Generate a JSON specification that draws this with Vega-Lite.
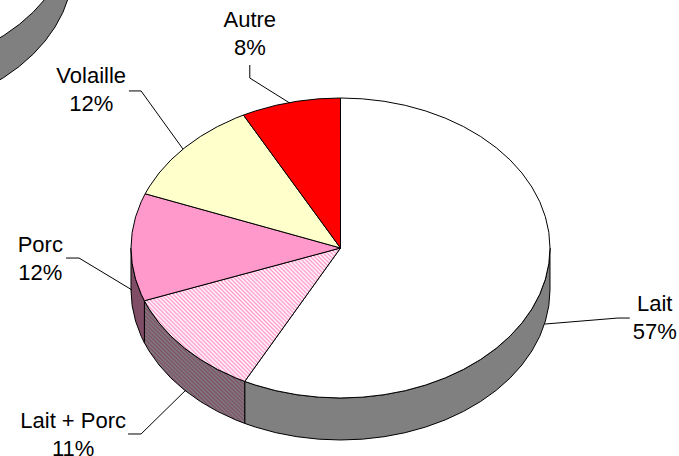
{"$schema":"https://vega.github.io/schema/vega-lite/v6.json","width":679,"height":456,"padding":0,"autosize":{"type":"none"},"background":"white","config":{"view":{"stroke":null}},
"encoding":{"x":{"field":"x","type":"quantitative","axis":null,"scale":{"domain":[-1.6253,1.6158],"nice":false,"zero":false}},"y":{"field":"y","type":"quantitative","axis":null,"scale":{"domain":[-1.3867,1.6533],"nice":false,"zero":false}}},
"layer":[
{"data":{"values":[
{"part":"Autre camembert","x":-1.2815,"y":2.0555,"y2":1.7755},{"part":"Autre camembert","x":-1.2979,"y":1.9521,"y2":1.6721},{"part":"Autre camembert","x":-1.3249,"y":1.851,"y2":1.571},{"part":"Autre camembert","x":-1.3625,"y":1.7533,"y2":1.4733},{"part":"Autre camembert","x":-1.41,"y":1.66,"y2":1.38},{"part":"Autre camembert","x":-1.467,"y":1.5722,"y2":1.2922},{"part":"Autre camembert","x":-1.5329,"y":1.4909,"y2":1.2109},{"part":"Autre camembert","x":-1.6069,"y":1.4169,"y2":1.1369},{"part":"Autre camembert","x":-1.6882,"y":1.351,"y2":1.071}
]},"mark":{"type":"area","orient":"vertical","clip":true,"fill":"#808080","stroke":"#000","strokeWidth":1},"encoding":{"y2":{"field":"y2"}}},
{"data":{"values":[
{"part":"Lait","x":1,"y":0,"y2":-0.28},{"part":"Lait","x":0.9945,"y":-0.1045,"y2":-0.3845},{"part":"Lait","x":0.9781,"y":-0.2079,"y2":-0.4879},{"part":"Lait","x":0.9511,"y":-0.309,"y2":-0.589},{"part":"Lait","x":0.9135,"y":-0.4067,"y2":-0.6867},{"part":"Lait","x":0.866,"y":-0.5,"y2":-0.78},{"part":"Lait","x":0.809,"y":-0.5878,"y2":-0.8678},{"part":"Lait","x":0.7431,"y":-0.6691,"y2":-0.9491},{"part":"Lait","x":0.6691,"y":-0.7431,"y2":-1.0231},{"part":"Lait","x":0.5878,"y":-0.809,"y2":-1.089},{"part":"Lait","x":0.5,"y":-0.866,"y2":-1.146},{"part":"Lait","x":0.4067,"y":-0.9135,"y2":-1.1935},{"part":"Lait","x":0.309,"y":-0.9511,"y2":-1.2311},{"part":"Lait","x":0.2079,"y":-0.9781,"y2":-1.2581},{"part":"Lait","x":0.1045,"y":-0.9945,"y2":-1.2745},{"part":"Lait","x":0,"y":-1,"y2":-1.28},{"part":"Lait","x":-0.1045,"y":-0.9945,"y2":-1.2745},{"part":"Lait","x":-0.2079,"y":-0.9781,"y2":-1.2581},{"part":"Lait","x":-0.309,"y":-0.9511,"y2":-1.2311},{"part":"Lait","x":-0.4067,"y":-0.9135,"y2":-1.1935},{"part":"Lait","x":-0.4571,"y":-0.8894,"y2":-1.1694}
]},"mark":{"type":"area","orient":"vertical","fill":"#808080","stroke":"#000","strokeWidth":1},"encoding":{"y2":{"field":"y2"}}},
{"data":{"values":[
{"part":"Lait + Porc","x":-0.4571,"y":-0.8894,"y2":-1.1694},{"part":"Lait + Porc","x":-0.5,"y":-0.866,"y2":-1.146},{"part":"Lait + Porc","x":-0.5878,"y":-0.809,"y2":-1.089},{"part":"Lait + Porc","x":-0.6691,"y":-0.7431,"y2":-1.0231},{"part":"Lait + Porc","x":-0.7431,"y":-0.6691,"y2":-0.9491},{"part":"Lait + Porc","x":-0.809,"y":-0.5878,"y2":-0.8678},{"part":"Lait + Porc","x":-0.866,"y":-0.5,"y2":-0.78},{"part":"Lait + Porc","x":-0.9135,"y":-0.4067,"y2":-0.6867},{"part":"Lait + Porc","x":-0.9361,"y":-0.3518,"y2":-0.6318}
]},"mark":{"type":"area","orient":"vertical","stroke":"#000","strokeWidth":1,"fill":{"gradient":"linear","x1":0,"y1":1,"x2":0.8769,"y2":-0.0983,"stops":[
{"offset":0,"color":"#808080"},{"offset":0.0089,"color":"#804d66"},{"offset":0.0179,"color":"#808080"},{"offset":0.0268,"color":"#804d66"},{"offset":0.0357,"color":"#808080"},{"offset":0.0446,"color":"#804d66"},{"offset":0.0536,"color":"#808080"},{"offset":0.0625,"color":"#804d66"},{"offset":0.0714,"color":"#808080"},{"offset":0.0804,"color":"#804d66"},{"offset":0.0893,"color":"#808080"},{"offset":0.0982,"color":"#804d66"},{"offset":0.1071,"color":"#808080"},{"offset":0.1161,"color":"#804d66"},
{"offset":0.125,"color":"#808080"},{"offset":0.1339,"color":"#804d66"},{"offset":0.1429,"color":"#808080"},{"offset":0.1518,"color":"#804d66"},{"offset":0.1607,"color":"#808080"},{"offset":0.1696,"color":"#804d66"},{"offset":0.1786,"color":"#808080"},{"offset":0.1875,"color":"#804d66"},{"offset":0.1964,"color":"#808080"},{"offset":0.2054,"color":"#804d66"},{"offset":0.2143,"color":"#808080"},{"offset":0.2232,"color":"#804d66"},{"offset":0.2321,"color":"#808080"},{"offset":0.2411,"color":"#804d66"},
{"offset":0.25,"color":"#808080"},{"offset":0.2589,"color":"#804d66"},{"offset":0.2679,"color":"#808080"},{"offset":0.2768,"color":"#804d66"},{"offset":0.2857,"color":"#808080"},{"offset":0.2946,"color":"#804d66"},{"offset":0.3036,"color":"#808080"},{"offset":0.3125,"color":"#804d66"},{"offset":0.3214,"color":"#808080"},{"offset":0.3304,"color":"#804d66"},{"offset":0.3393,"color":"#808080"},{"offset":0.3482,"color":"#804d66"},{"offset":0.3571,"color":"#808080"},{"offset":0.3661,"color":"#804d66"},
{"offset":0.375,"color":"#808080"},{"offset":0.3839,"color":"#804d66"},{"offset":0.3929,"color":"#808080"},{"offset":0.4018,"color":"#804d66"},{"offset":0.4107,"color":"#808080"},{"offset":0.4196,"color":"#804d66"},{"offset":0.4286,"color":"#808080"},{"offset":0.4375,"color":"#804d66"},{"offset":0.4464,"color":"#808080"},{"offset":0.4554,"color":"#804d66"},{"offset":0.4643,"color":"#808080"},{"offset":0.4732,"color":"#804d66"},{"offset":0.4821,"color":"#808080"},{"offset":0.4911,"color":"#804d66"},
{"offset":0.5,"color":"#808080"},{"offset":0.5089,"color":"#804d66"},{"offset":0.5179,"color":"#808080"},{"offset":0.5268,"color":"#804d66"},{"offset":0.5357,"color":"#808080"},{"offset":0.5446,"color":"#804d66"},{"offset":0.5536,"color":"#808080"},{"offset":0.5625,"color":"#804d66"},{"offset":0.5714,"color":"#808080"},{"offset":0.5804,"color":"#804d66"},{"offset":0.5893,"color":"#808080"},{"offset":0.5982,"color":"#804d66"},{"offset":0.6071,"color":"#808080"},{"offset":0.6161,"color":"#804d66"},
{"offset":0.625,"color":"#808080"},{"offset":0.6339,"color":"#804d66"},{"offset":0.6429,"color":"#808080"},{"offset":0.6518,"color":"#804d66"},{"offset":0.6607,"color":"#808080"},{"offset":0.6696,"color":"#804d66"},{"offset":0.6786,"color":"#808080"},{"offset":0.6875,"color":"#804d66"},{"offset":0.6964,"color":"#808080"},{"offset":0.7054,"color":"#804d66"},{"offset":0.7143,"color":"#808080"},{"offset":0.7232,"color":"#804d66"},{"offset":0.7321,"color":"#808080"},{"offset":0.7411,"color":"#804d66"},
{"offset":0.75,"color":"#808080"},{"offset":0.7589,"color":"#804d66"},{"offset":0.7679,"color":"#808080"},{"offset":0.7768,"color":"#804d66"},{"offset":0.7857,"color":"#808080"},{"offset":0.7946,"color":"#804d66"},{"offset":0.8036,"color":"#808080"},{"offset":0.8125,"color":"#804d66"},{"offset":0.8214,"color":"#808080"},{"offset":0.8304,"color":"#804d66"},{"offset":0.8393,"color":"#808080"},{"offset":0.8482,"color":"#804d66"},{"offset":0.8571,"color":"#808080"},{"offset":0.8661,"color":"#804d66"},
{"offset":0.875,"color":"#808080"},{"offset":0.8839,"color":"#804d66"},{"offset":0.8929,"color":"#808080"},{"offset":0.9018,"color":"#804d66"},{"offset":0.9107,"color":"#808080"},{"offset":0.9196,"color":"#804d66"},{"offset":0.9286,"color":"#808080"},{"offset":0.9375,"color":"#804d66"},{"offset":0.9464,"color":"#808080"},{"offset":0.9554,"color":"#804d66"},{"offset":0.9643,"color":"#808080"},{"offset":0.9732,"color":"#804d66"},{"offset":0.9821,"color":"#808080"},{"offset":0.9911,"color":"#804d66"},{"offset":1,"color":"#808080"}
]}},"encoding":{"y2":{"field":"y2"}}},
{"data":{"values":[
{"part":"Porc","x":-0.9361,"y":-0.3518,"y2":-0.6318},{"part":"Porc","x":-0.9511,"y":-0.309,"y2":-0.589},{"part":"Porc","x":-0.9781,"y":-0.2079,"y2":-0.4879},{"part":"Porc","x":-0.9945,"y":-0.1045,"y2":-0.3845},{"part":"Porc","x":-1,"y":0,"y2":-0.28}
]},"mark":{"type":"area","orient":"vertical","fill":"#804d66","stroke":"#000","strokeWidth":1},"encoding":{"y2":{"field":"y2"}}},
{"data":{"values":[
{"part":"Lait","i":0,"x":0,"y":0},{"part":"Lait","i":1,"x":0,"y":1},{"part":"Lait","i":2,"x":0.1045,"y":0.9945},{"part":"Lait","i":3,"x":0.2079,"y":0.9781},{"part":"Lait","i":4,"x":0.309,"y":0.9511},{"part":"Lait","i":5,"x":0.4067,"y":0.9135},{"part":"Lait","i":6,"x":0.5,"y":0.866},{"part":"Lait","i":7,"x":0.5878,"y":0.809},{"part":"Lait","i":8,"x":0.6691,"y":0.7431},{"part":"Lait","i":9,"x":0.7431,"y":0.6691},{"part":"Lait","i":10,"x":0.809,"y":0.5878},{"part":"Lait","i":11,"x":0.866,"y":0.5},{"part":"Lait","i":12,"x":0.9135,"y":0.4067},{"part":"Lait","i":13,"x":0.9511,"y":0.309},{"part":"Lait","i":14,"x":0.9781,"y":0.2079},{"part":"Lait","i":15,"x":0.9945,"y":0.1045},{"part":"Lait","i":16,"x":1,"y":0},{"part":"Lait","i":17,"x":0.9945,"y":-0.1045},{"part":"Lait","i":18,"x":0.9781,"y":-0.2079},{"part":"Lait","i":19,"x":0.9511,"y":-0.309},{"part":"Lait","i":20,"x":0.9135,"y":-0.4067},{"part":"Lait","i":21,"x":0.866,"y":-0.5},{"part":"Lait","i":22,"x":0.809,"y":-0.5878},{"part":"Lait","i":23,"x":0.7431,"y":-0.6691},{"part":"Lait","i":24,"x":0.6691,"y":-0.7431},{"part":"Lait","i":25,"x":0.5878,"y":-0.809},{"part":"Lait","i":26,"x":0.5,"y":-0.866},{"part":"Lait","i":27,"x":0.4067,"y":-0.9135},{"part":"Lait","i":28,"x":0.309,"y":-0.9511},{"part":"Lait","i":29,"x":0.2079,"y":-0.9781},{"part":"Lait","i":30,"x":0.1045,"y":-0.9945},{"part":"Lait","i":31,"x":0,"y":-1},{"part":"Lait","i":32,"x":-0.1045,"y":-0.9945},{"part":"Lait","i":33,"x":-0.2079,"y":-0.9781},{"part":"Lait","i":34,"x":-0.309,"y":-0.9511},{"part":"Lait","i":35,"x":-0.4067,"y":-0.9135},{"part":"Lait","i":36,"x":-0.4571,"y":-0.8894},{"part":"Lait","i":37,"x":0,"y":0}
]},"mark":{"type":"line","fill":"#ffffff","stroke":"#000","strokeWidth":1},"encoding":{"order":{"field":"i","type":"quantitative"}}},
{"data":{"values":[
{"part":"Lait + Porc","i":0,"x":0,"y":0},{"part":"Lait + Porc","i":1,"x":-0.4571,"y":-0.8894},{"part":"Lait + Porc","i":2,"x":-0.5,"y":-0.866},{"part":"Lait + Porc","i":3,"x":-0.5878,"y":-0.809},{"part":"Lait + Porc","i":4,"x":-0.6691,"y":-0.7431},{"part":"Lait + Porc","i":5,"x":-0.7431,"y":-0.6691},{"part":"Lait + Porc","i":6,"x":-0.809,"y":-0.5878},{"part":"Lait + Porc","i":7,"x":-0.866,"y":-0.5},{"part":"Lait + Porc","i":8,"x":-0.9135,"y":-0.4067},{"part":"Lait + Porc","i":9,"x":-0.9361,"y":-0.3518},{"part":"Lait + Porc","i":10,"x":0,"y":0}
]},"mark":{"type":"line","stroke":"#000","strokeWidth":1,"fill":{"gradient":"linear","x1":0,"y1":1,"x2":1.149,"y2":0.219,"stops":[
{"offset":0,"color":"#fff"},{"offset":0.0062,"color":"#f9c"},{"offset":0.0123,"color":"#fff"},{"offset":0.0185,"color":"#f9c"},{"offset":0.0247,"color":"#fff"},{"offset":0.0309,"color":"#f9c"},{"offset":0.037,"color":"#fff"},{"offset":0.0432,"color":"#f9c"},{"offset":0.0494,"color":"#fff"},{"offset":0.0556,"color":"#f9c"},{"offset":0.0617,"color":"#fff"},{"offset":0.0679,"color":"#f9c"},{"offset":0.0741,"color":"#fff"},{"offset":0.0802,"color":"#f9c"},{"offset":0.0864,"color":"#fff"},{"offset":0.0926,"color":"#f9c"},{"offset":0.0988,"color":"#fff"},{"offset":0.1049,"color":"#f9c"},{"offset":0.1111,"color":"#fff"},{"offset":0.1173,"color":"#f9c"},{"offset":0.1235,"color":"#fff"},{"offset":0.1296,"color":"#f9c"},{"offset":0.1358,"color":"#fff"},{"offset":0.142,"color":"#f9c"},{"offset":0.1481,"color":"#fff"},{"offset":0.1543,"color":"#f9c"},{"offset":0.1605,"color":"#fff"},{"offset":0.1667,"color":"#f9c"},{"offset":0.1728,"color":"#fff"},{"offset":0.179,"color":"#f9c"},{"offset":0.1852,"color":"#fff"},{"offset":0.1914,"color":"#f9c"},{"offset":0.1975,"color":"#fff"},{"offset":0.2037,"color":"#f9c"},{"offset":0.2099,"color":"#fff"},{"offset":0.216,"color":"#f9c"},{"offset":0.2222,"color":"#fff"},{"offset":0.2284,"color":"#f9c"},{"offset":0.2346,"color":"#fff"},{"offset":0.2407,"color":"#f9c"},{"offset":0.2469,"color":"#fff"},{"offset":0.2531,"color":"#f9c"},{"offset":0.2593,"color":"#fff"},{"offset":0.2654,"color":"#f9c"},{"offset":0.2716,"color":"#fff"},{"offset":0.2778,"color":"#f9c"},{"offset":0.284,"color":"#fff"},{"offset":0.2901,"color":"#f9c"},{"offset":0.2963,"color":"#fff"},{"offset":0.3025,"color":"#f9c"},{"offset":0.3086,"color":"#fff"},{"offset":0.3148,"color":"#f9c"},{"offset":0.321,"color":"#fff"},{"offset":0.3272,"color":"#f9c"},{"offset":0.3333,"color":"#fff"},{"offset":0.3395,"color":"#f9c"},{"offset":0.3457,"color":"#fff"},{"offset":0.3519,"color":"#f9c"},{"offset":0.358,"color":"#fff"},{"offset":0.3642,"color":"#f9c"},{"offset":0.3704,"color":"#fff"},{"offset":0.3765,"color":"#f9c"},{"offset":0.3827,"color":"#fff"},{"offset":0.3889,"color":"#f9c"},{"offset":0.3951,"color":"#fff"},{"offset":0.4012,"color":"#f9c"},{"offset":0.4074,"color":"#fff"},{"offset":0.4136,"color":"#f9c"},{"offset":0.4198,"color":"#fff"},{"offset":0.4259,"color":"#f9c"},{"offset":0.4321,"color":"#fff"},{"offset":0.4383,"color":"#f9c"},{"offset":0.4444,"color":"#fff"},{"offset":0.4506,"color":"#f9c"},{"offset":0.4568,"color":"#fff"},{"offset":0.463,"color":"#f9c"},{"offset":0.4691,"color":"#fff"},{"offset":0.4753,"color":"#f9c"},{"offset":0.4815,"color":"#fff"},{"offset":0.4877,"color":"#f9c"},{"offset":0.4938,"color":"#fff"},{"offset":0.5,"color":"#f9c"},{"offset":0.5062,"color":"#fff"},{"offset":0.5123,"color":"#f9c"},{"offset":0.5185,"color":"#fff"},{"offset":0.5247,"color":"#f9c"},{"offset":0.5309,"color":"#fff"},{"offset":0.537,"color":"#f9c"},{"offset":0.5432,"color":"#fff"},{"offset":0.5494,"color":"#f9c"},{"offset":0.5556,"color":"#fff"},{"offset":0.5617,"color":"#f9c"},{"offset":0.5679,"color":"#fff"},{"offset":0.5741,"color":"#f9c"},{"offset":0.5802,"color":"#fff"},{"offset":0.5864,"color":"#f9c"},{"offset":0.5926,"color":"#fff"},{"offset":0.5988,"color":"#f9c"},{"offset":0.6049,"color":"#fff"},{"offset":0.6111,"color":"#f9c"},{"offset":0.6173,"color":"#fff"},{"offset":0.6235,"color":"#f9c"},{"offset":0.6296,"color":"#fff"},{"offset":0.6358,"color":"#f9c"},{"offset":0.642,"color":"#fff"},{"offset":0.6481,"color":"#f9c"},{"offset":0.6543,"color":"#fff"},{"offset":0.6605,"color":"#f9c"},{"offset":0.6667,"color":"#fff"},{"offset":0.6728,"color":"#f9c"},{"offset":0.679,"color":"#fff"},{"offset":0.6852,"color":"#f9c"},{"offset":0.6914,"color":"#fff"},{"offset":0.6975,"color":"#f9c"},{"offset":0.7037,"color":"#fff"},{"offset":0.7099,"color":"#f9c"},{"offset":0.716,"color":"#fff"},{"offset":0.7222,"color":"#f9c"},{"offset":0.7284,"color":"#fff"},{"offset":0.7346,"color":"#f9c"},{"offset":0.7407,"color":"#fff"},{"offset":0.7469,"color":"#f9c"},{"offset":0.7531,"color":"#fff"},{"offset":0.7593,"color":"#f9c"},{"offset":0.7654,"color":"#fff"},{"offset":0.7716,"color":"#f9c"},{"offset":0.7778,"color":"#fff"},{"offset":0.784,"color":"#f9c"},{"offset":0.7901,"color":"#fff"},{"offset":0.7963,"color":"#f9c"},{"offset":0.8025,"color":"#fff"},{"offset":0.8086,"color":"#f9c"},{"offset":0.8148,"color":"#fff"},{"offset":0.821,"color":"#f9c"},{"offset":0.8272,"color":"#fff"},{"offset":0.8333,"color":"#f9c"},{"offset":0.8395,"color":"#fff"},{"offset":0.8457,"color":"#f9c"},{"offset":0.8519,"color":"#fff"},{"offset":0.858,"color":"#f9c"},{"offset":0.8642,"color":"#fff"},{"offset":0.8704,"color":"#f9c"},{"offset":0.8765,"color":"#fff"},{"offset":0.8827,"color":"#f9c"},{"offset":0.8889,"color":"#fff"},{"offset":0.8951,"color":"#f9c"},{"offset":0.9012,"color":"#fff"},{"offset":0.9074,"color":"#f9c"},{"offset":0.9136,"color":"#fff"},{"offset":0.9198,"color":"#f9c"},{"offset":0.9259,"color":"#fff"},{"offset":0.9321,"color":"#f9c"},{"offset":0.9383,"color":"#fff"},{"offset":0.9444,"color":"#f9c"},{"offset":0.9506,"color":"#fff"},{"offset":0.9568,"color":"#f9c"},{"offset":0.963,"color":"#fff"},{"offset":0.9691,"color":"#f9c"},{"offset":0.9753,"color":"#fff"},{"offset":0.9815,"color":"#f9c"},{"offset":0.9877,"color":"#fff"},{"offset":0.9938,"color":"#f9c"},{"offset":1,"color":"#fff"}
]}},"encoding":{"order":{"field":"i","type":"quantitative"}}},
{"data":{"values":[
{"part":"Porc","i":0,"x":0,"y":0},{"part":"Porc","i":1,"x":-0.9361,"y":-0.3518},{"part":"Porc","i":2,"x":-0.9511,"y":-0.309},{"part":"Porc","i":3,"x":-0.9781,"y":-0.2079},{"part":"Porc","i":4,"x":-0.9945,"y":-0.1045},{"part":"Porc","i":5,"x":-1,"y":0},{"part":"Porc","i":6,"x":-0.9945,"y":0.1045},{"part":"Porc","i":7,"x":-0.9781,"y":0.2079},{"part":"Porc","i":8,"x":-0.9511,"y":0.309},{"part":"Porc","i":9,"x":-0.9323,"y":0.3616},{"part":"Porc","i":10,"x":0,"y":0}
]},"mark":{"type":"line","fill":"#ff99cc","stroke":"#000","strokeWidth":1},"encoding":{"order":{"field":"i","type":"quantitative"}}},
{"data":{"values":[
{"part":"Volaille","i":0,"x":0,"y":0},{"part":"Volaille","i":1,"x":-0.9323,"y":0.3616},{"part":"Volaille","i":2,"x":-0.9135,"y":0.4067},{"part":"Volaille","i":3,"x":-0.866,"y":0.5},{"part":"Volaille","i":4,"x":-0.809,"y":0.5878},{"part":"Volaille","i":5,"x":-0.7431,"y":0.6691},{"part":"Volaille","i":6,"x":-0.6691,"y":0.7431},{"part":"Volaille","i":7,"x":-0.5878,"y":0.809},{"part":"Volaille","i":8,"x":-0.5,"y":0.866},{"part":"Volaille","i":9,"x":-0.4633,"y":0.8862},{"part":"Volaille","i":10,"x":0,"y":0}
]},"mark":{"type":"line","fill":"#ffffcc","stroke":"#000","strokeWidth":1},"encoding":{"order":{"field":"i","type":"quantitative"}}},
{"data":{"values":[
{"part":"Autre","i":0,"x":0,"y":0},{"part":"Autre","i":1,"x":-0.4633,"y":0.8862},{"part":"Autre","i":2,"x":-0.4067,"y":0.9135},{"part":"Autre","i":3,"x":-0.309,"y":0.9511},{"part":"Autre","i":4,"x":-0.2079,"y":0.9781},{"part":"Autre","i":5,"x":-0.1045,"y":0.9945},{"part":"Autre","i":6,"x":0,"y":1},{"part":"Autre","i":7,"x":0,"y":0}
]},"mark":{"type":"line","fill":"#ff0000","stroke":"#000","strokeWidth":1},"encoding":{"order":{"field":"i","type":"quantitative"}}},
{"data":{"values":[
{"part":"Lait","i":0,"x":0.976,"y":-0.507},{"part":"Lait","i":1,"x":1.324,"y":-0.467},{"part":"Lait","i":2,"x":1.381,"y":-0.467},
{"part":"Lait + Porc","i":0,"x":-0.738,"y":-0.947},{"part":"Lait + Porc","i":1,"x":-0.952,"y":-1.24},{"part":"Lait + Porc","i":2,"x":-1.014,"y":-1.24},
{"part":"Porc","i":0,"x":-0.995,"y":-0.28},{"part":"Porc","i":1,"x":-1.248,"y":-0.067},{"part":"Porc","i":2,"x":-1.31,"y":-0.067},
{"part":"Volaille","i":0,"x":-0.752,"y":0.66},{"part":"Volaille","i":1,"x":-0.952,"y":1.047},{"part":"Volaille","i":2,"x":-1.01,"y":1.047},
{"part":"Autre","i":0,"x":-0.243,"y":0.967},{"part":"Autre","i":1,"x":-0.433,"y":1.133},{"part":"Autre","i":2,"x":-0.433,"y":1.22}
]},"mark":{"type":"line","stroke":"#000","strokeWidth":1},"encoding":{"detail":{"field":"part"},"order":{"field":"i","type":"quantitative"}}},
{"data":{"values":[
{"label":"Lait\n57%","x":1.5,"y":-0.374},{"label":"Lait + Porc\n11%","x":-1.276,"y":-1.154},{"label":"Porc\n12%","x":-1.433,"y":0.02},{"label":"Volaille\n12%","x":-1.19,"y":1.146},{"label":"Autre\n8%","x":-0.433,"y":1.523}
]},"mark":{"type":"text","font":"Liberation Sans","fontSize":22,"lineHeight":28,"lineBreak":"\n","align":"center","baseline":"middle","color":"#000"},"encoding":{"text":{"field":"label"}}}
]}
